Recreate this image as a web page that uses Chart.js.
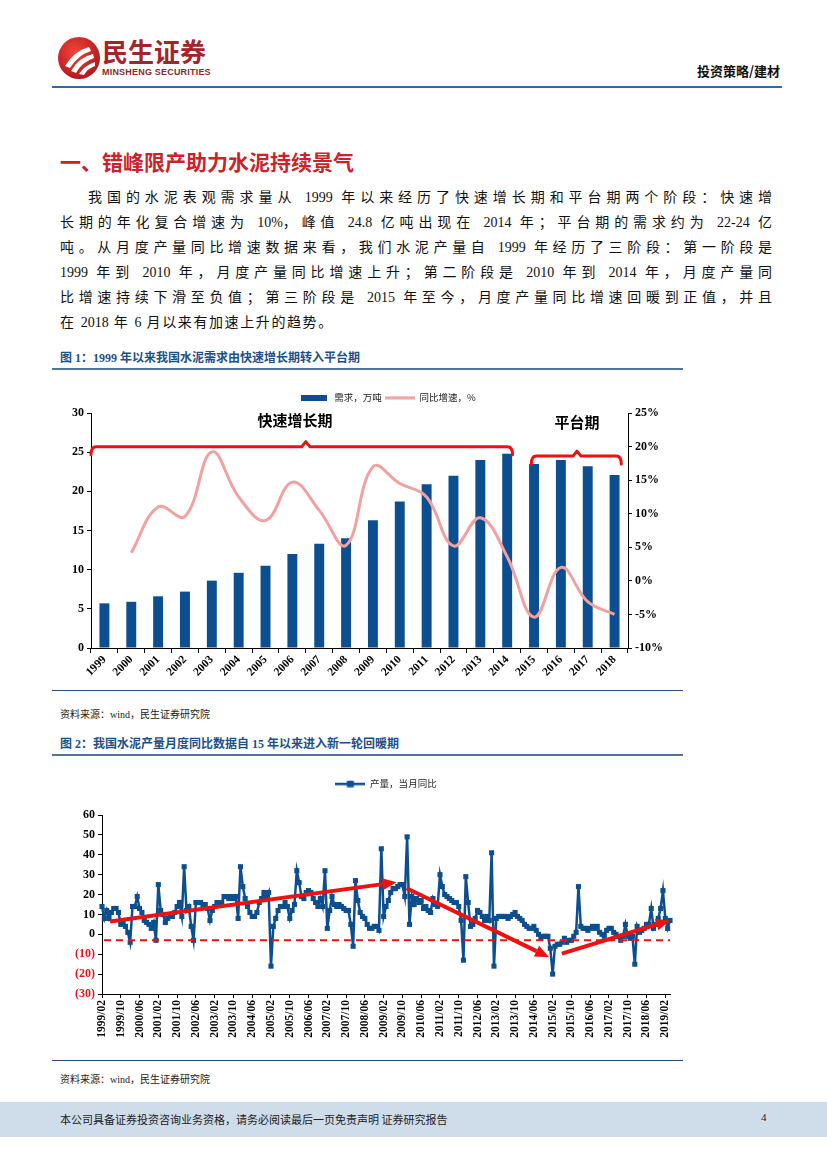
<!DOCTYPE html>
<html><head><meta charset="utf-8">
<script src="https://cdn.jsdelivr.net/npm/chart.js@4.4.1/dist/chart.umd.min.js"></script>
<style>
html,body{margin:0;padding:0;background:#fff;}
body{width:827px;height:1169px;position:relative;overflow:hidden;font-family:"Liberation Serif","Noto Sans CJK SC",serif;color:#111;}
.a{position:absolute;white-space:nowrap;}
.p{position:absolute;left:60px;font-size:14px;line-height:20px;height:20px;white-space:nowrap;}
.figt{position:absolute;left:60px;font-size:12px;font-weight:bold;color:#1d4f88;}
.rule{position:absolute;left:52px;width:631px;height:2px;background:#4f74a2;}
.thin{position:absolute;left:52px;width:631px;height:1px;background:#2a4f7e;}
.src{position:absolute;left:60px;font-size:10px;color:#222;}
canvas{position:absolute;}
</style></head><body>

<svg class="a" style="left:56px;top:35px" width="46" height="46" viewBox="0 0 46 46">
  <defs><radialGradient id="g" cx="40%" cy="35%" r="70%"><stop offset="0" stop-color="#f0443a"/><stop offset="1" stop-color="#b3141b"/></radialGradient></defs>
  <circle cx="23" cy="23" r="21" fill="url(#g)"/>
  <path d="M9 31 Q18 16 33 12 L35 16 Q22 20 14 33 Z" fill="#fff"/>
  <path d="M15 36 Q23 22 37 19 L38 23 Q26 27 20 38 Z" fill="#fff"/>
  <path d="M23 39 Q29 30 39 27 L39 31 Q31 34 28 40 Z" fill="#fff"/>
</svg>
<div class="a" style="left:102px;top:36px;font-size:26px;font-weight:bold;color:#a3252a;font-family:'Noto Sans CJK SC';line-height:30px;letter-spacing:0px">民生证券</div>
<div class="a" style="left:102px;top:67px;font-size:9px;font-weight:bold;color:#8c2a2a;font-family:'Liberation Sans Narrow','Liberation Sans';letter-spacing:0.2px">MINSHENG SECURITIES</div>
<div class="a" style="left:697px;top:61px;font-size:13px;font-weight:bold;font-family:'Noto Sans CJK SC'">投资策略/建材</div>
<div class="a" style="left:52px;top:86px;width:730px;height:2px;background:#2f6ba8"></div>

<div class="a" style="left:60px;top:147px;font-size:21px;font-weight:bold;color:#cc2229;font-family:'Noto Sans CJK SC';line-height:28px">一、错峰限产助力水泥持续景气</div>

<div class="p j" data-w="684" style="top:188px;left:88px">我国的水泥表观需求量从 1999 年以来经历了快速增长期和平台期两个阶段：快速增</div>
<div class="p j" data-w="712" style="top:213px">长期的年化复合增速为 10%，峰值 24.8 亿吨出现在 2014 年；平台期的需求约为 22-24 亿</div>
<div class="p j" data-w="712" style="top:238px">吨。从月度产量同比增速数据来看，我们水泥产量自 1999 年经历了三阶段：第一阶段是</div>
<div class="p j" data-w="712" style="top:263px">1999 年到 2010 年，月度产量同比增速上升；第二阶段是 2010 年到 2014 年，月度产量同</div>
<div class="p j" data-w="712" style="top:288px">比增速持续下滑至负值；第三阶段是 2015 年至今，月度产量同比增速回暖到正值，并且</div>
<div class="p j" data-ls="1.6" style="top:313px">在 2018 年 6 月以来有加速上升的趋势。</div>

<div class="figt" style="top:348px">图 1：1999 年以来我国水泥需求由快速增长期转入平台期</div>
<div class="rule" style="top:368px"></div>
<canvas id="c1" width="631" height="315" style="left:52px;top:375px"></canvas>
<div class="thin" style="top:690px"></div>
<div class="src" style="top:706px">资料来源：wind，民生证券研究院</div>

<div class="figt" style="top:734px">图 2：我国水泥产量月度同比数据自 15 年以来进入新一轮回暖期</div>
<div class="rule" style="top:754px"></div>
<canvas id="c2" width="631" height="300" style="left:52px;top:760px"></canvas>
<div class="thin" style="top:1060px"></div>
<div class="src" style="top:1071px">资料来源：wind，民生证券研究院</div>

<div class="a" style="left:0;top:1102px;width:827px;height:35px;background:#cfdcea"></div>
<div class="a" style="left:60px;top:1111px;font-size:11px;color:#222;font-family:'Noto Sans CJK SC'">本公司具备证券投资咨询业务资格，请务必阅读最后一页免责声明 证券研究报告</div>
<div class="a" style="left:761px;top:1111px;font-size:11px;color:#222">4</div>

<script>
// justify paragraph lines: extra space only between CJK characters / spaces, digits stay tight
document.querySelectorAll('.p.j').forEach(el=>{
  const text=el.textContent;
  let tight=0;
  el.innerHTML=text.replace(/[0-9A-Za-z.%\-]+/g,m=>{tight+=m.length;return '<span style="letter-spacing:0">'+m+'</span>';});
  const count=text.length-tight-1;
  if(el.dataset.w){
    const w=el.getBoundingClientRect().width;
    el.style.letterSpacing=((+el.dataset.w-w)/count)+'px';
  } else el.style.letterSpacing=el.dataset.ls+'px';
});

// ---------- Chart 1 data ----------
const years = ['1999','2000','2001','2002','2003','2004','2005','2006','2007','2008','2009','2010','2011','2012','2013','2014','2015','2016','2017','2018'];
const demand = [5.7,5.9,6.6,7.2,8.6,9.6,10.5,12.0,13.3,14.0,16.3,18.7,20.9,22.0,24.0,24.8,23.5,24.0,23.2,22.1];
const demandGrowth = [null,4.2,11.0,9.6,19.2,12.5,9.0,14.7,10.5,5.3,17.0,14.5,12.5,5.2,9.4,3.6,-5.4,2.0,-3.1,-5.0];
const leftTicks = {min:0,max:30,step:5};
const rightTicks = {min:-10,max:25,step:5};
const phaseLabels = [{text:'快速增长期',x:7.1,y:29.1},{text:'平台期',x:17.6,y:28.8}];
const phaseBrackets = [{from:-0.5,to:15.2,mid:7.5,y:25.7},{from:15.9,to:19.25,mid:17.6,y:24.5}];

// ---------- Chart 2 data (cement output, monthly YoY %) ----------
const cementStart = {year:1999,month:2};
const cementYoY = [
14,8,12,8,11,13,13,11,5,6,4,1,
-4,14,14,19,13,11,7,6,5,3,6,-3,
25,12,10,6,8,9,9,11,14,16,9,34,
12,14,4,-3,16,16,16,15,15,13,7,12,
14,16,15,16,19,19,18,19,18,19,8,34,
24,18,14,11,9,9,11,16,18,21,18,21,
-16,4,8,12,14,14,16,14,8,12,15,32,
26,19,18,21,22,21,18,16,14,18,14,32,
3,12,19,15,14,15,14,13,12,12,5,-6,
27,17,11,9,8,5,3,3,4,4,2,43,
9,14,17,21,23,23,24,25,25,19,49,5,
19,15,18,16,17,13,14,12,11,18,15,14,
30,24,20,19,18,17,16,16,14,7,-13,29,
16,4,5,8,12,11,9,7,9,7,41,-16,
8,9,9,9,9,8,9,10,11,9,8,7,
5,4,3,3,4,2,0,-2,-1,-1,-1,-7,
-20,-6,-5,-5,-4,-2,-4,-3,-3,-1,1,24,
4,3,3,2,3,4,3,4,1,0,-1,2,
3,3,1,0,-1,-3,-1,5,-1,-2,-1,-15,
4,1,2,3,5,5,13,3,5,8,13,22,
8,3,7];
const yTicks2 = {min:-30,max:60,step:10};
const refLineValue = -3;
const trendArrows = [
  {x0:3.4,y0:6.5,x1:125.5,y1:26.2},
  {x0:129.8,y0:23.2,x1:190.5,y1:-11.5},
  {x0:195.9,y0:-9.7,x1:242,y1:7}
];
const monthLabels = [];
for (let i=0;i<cementYoY.length;i++){
  const m = cementStart.month-1+i;
  monthLabels.push((cementStart.year+Math.floor(m/12))+'/'+String(m%12+1).padStart(2,'0'));
}

// ---------- styling ----------
const BLUE='#0b4f90', PINK='#f2a0a0', RED='#f01010';
Chart.defaults.font.family='"Liberation Serif","Times New Roman",serif';
Chart.defaults.color='#000';
Chart.defaults.animation=false;
const tickFont={size:12,weight:'bold',family:'"Liberation Serif",serif'};
const legendFont={size:9.5,family:'"Noto Sans CJK SC",sans-serif'};

function icon(w,h,draw){const c=document.createElement('canvas');c.width=w;c.height=h;draw(c.getContext('2d'),w,h);return c;}
const barIcon=icon(26,6,(g,w,h)=>{g.fillStyle=BLUE;g.fillRect(0,0,w,h);});
const lineIcon=icon(30,4,(g,w,h)=>{g.fillStyle=PINK;g.fillRect(0,0.5,w,3);});
const markIcon=icon(30,8,(g,w,h)=>{g.fillStyle=BLUE;g.fillRect(0,3,w,2.5);g.fillRect(11.5,1,7,6.5);});

function legendCfg(icons){return {position:'top',labels:{usePointStyle:true,pointStyleWidth:30,padding:3,font:legendFont,color:'#222',
  sort:(a,b)=>a.datasetIndex-b.datasetIndex,
  generateLabels(chart){const it=Chart.defaults.plugins.legend.labels.generateLabels(chart);it.forEach(x=>{x.pointStyle=icons[x.datasetIndex];});return it;}}};}

function legendBox(height,dx){return {id:'legendBox',
  beforeInit(chart){const lg=chart.legend;const f=lg.fit;lg.fit=function(){f.call(this);this.height=height;};},
  afterLayout(chart){chart.legend.left+=dx;chart.legend.right+=dx;}};}

function axisY(pos,t,extra){return Object.assign({position:pos,min:t.min,max:t.max,
  ticks:{stepSize:t.step,font:tickFont,color:'#000',padding:3},
  grid:{display:true,drawOnChartArea:false,tickLength:4,color:'#000'},
  border:{display:true,color:'#000',width:1}},extra||{});}

// ---------- Chart 1 ----------
new Chart(document.getElementById('c1'),{
  data:{labels:years,datasets:[
    {type:'bar',label:'需求，万吨',data:demand,backgroundColor:BLUE,yAxisID:'y',barPercentage:0.37,categoryPercentage:1,order:1},
    {type:'line',label:'同比增速，%',data:demandGrowth,borderColor:PINK,backgroundColor:PINK,borderWidth:3,pointRadius:0,tension:0.4,yAxisID:'y1',order:0}
  ]},
  options:{responsive:false,animation:false,
    layout:{padding:{top:15,left:0,right:0,bottom:0}},
    plugins:{legend:legendCfg([barIcon,lineIcon]),tooltip:{enabled:false}},
    scales:{
      x:{offset:true,grid:{display:true,drawOnChartArea:false,tickLength:5,color:'#000',offset:true},
         border:{color:'#000'},ticks:{font:{size:11.5,weight:'bold'},color:'#000',minRotation:45,maxRotation:45,padding:0,autoSkip:false},
         afterFit(s){s.height=42;}},
      y:axisY('left',leftTicks,{afterFit(s){s.width=39;}}),
      y1:axisY('right',rightTicks,{ticks:{stepSize:rightTicks.step,font:tickFont,color:'#000',padding:3,callback:v=>v+'%'},afterFit(s){s.width=55;}})
    }
  },
  plugins:[legendBox(23,20),{id:'phases',afterDatasetsDraw(chart){
    const g=chart.ctx,x=chart.scales.x,y=chart.scales.y;
    g.save();
    g.strokeStyle=RED;g.lineWidth=3;g.lineCap='round';g.lineJoin='round';
    phaseBrackets.forEach(b=>{
      const x1=x.getPixelForValue(b.from),x2=x.getPixelForValue(b.to),xm=x.getPixelForValue(b.mid),yy=y.getPixelForValue(b.y);
      g.beginPath();
      g.moveTo(x1,yy+8);g.quadraticCurveTo(x1,yy,x1+5,yy);
      g.lineTo(xm-4,yy);g.lineTo(xm,yy-5);g.lineTo(xm+4,yy);
      g.lineTo(x2-5,yy);g.quadraticCurveTo(x2,yy,x2,yy+8);
      g.stroke();
    });
    g.fillStyle='#000';g.font='bold 15px "Noto Sans CJK SC"';g.textAlign='center';g.textBaseline='middle';
    phaseLabels.forEach(p=>g.fillText(p.text,x.getPixelForValue(p.x),y.getPixelForValue(p.y)));
    g.restore();
  }}]
});

// ---------- Chart 2 ----------
new Chart(document.getElementById('c2'),{
  type:'line',
  data:{labels:monthLabels,datasets:[
    {label:'产量，当月同比',data:cementYoY,borderColor:BLUE,backgroundColor:BLUE,borderWidth:2.5,
     pointStyle:'rect',pointRadius:3.6,pointBorderWidth:0,pointBackgroundColor:BLUE,tension:0}
  ]},
  options:{responsive:false,animation:false,
    layout:{padding:{top:16,left:0,right:13,bottom:0}},
    plugins:{legend:legendCfg([markIcon]),tooltip:{enabled:false}},
    scales:{
      x:{offset:false,grid:{display:true,drawOnChartArea:false,tickLength:4,color:'#000'},border:{color:'#000'},
         ticks:{autoSkip:false,minRotation:90,maxRotation:90,padding:2,font:{size:11.5,weight:'bold'},color:'#000',
           callback(v,i){return i%8===0?this.getLabelForValue(v):null;}},
         afterFit(s){s.height=66;}},
      y:axisY('left',yTicks2,{ticks:{stepSize:yTicks2.step,font:tickFont,padding:3,
           color:c=>(c.tick&&c.tick.value<0)?'#e01818':'#000',
           callback:v=>v<0?'('+Math.abs(v)+')':String(v)},
         afterFit(s){s.width=50;}})
    }
  },
  plugins:[legendBox(39,25),{id:'trend',afterDatasetsDraw(chart){
    const g=chart.ctx,x=chart.scales.x,y=chart.scales.y,a=chart.chartArea;
    g.save();
    const yr=y.getPixelForValue(refLineValue);
    g.strokeStyle=RED;g.lineWidth=2;g.setLineDash([7,5]);
    g.beginPath();g.moveTo(a.left+2,yr);g.lineTo(a.right,yr);g.stroke();
    g.setLineDash([]);
    g.lineWidth=4;g.fillStyle=RED;g.lineCap='butt';
    trendArrows.forEach(t=>{
      const X0=x.getPixelForValue(t.x0),Y0=y.getPixelForValue(t.y0),X1=x.getPixelForValue(t.x1),Y1=y.getPixelForValue(t.y1);
      const ang=Math.atan2(Y1-Y0,X1-X0),L=14,W=6;
      const bx=X1-L*Math.cos(ang),by=Y1-L*Math.sin(ang);
      g.beginPath();g.moveTo(X0,Y0);g.lineTo(bx,by);g.stroke();
      g.beginPath();g.moveTo(X1,Y1);
      g.lineTo(bx+W*Math.sin(ang),by-W*Math.cos(ang));
      g.lineTo(bx-W*Math.sin(ang),by+W*Math.cos(ang));
      g.closePath();g.fill();
    });
    g.restore();
  }}]
});
</script>
</body></html>
